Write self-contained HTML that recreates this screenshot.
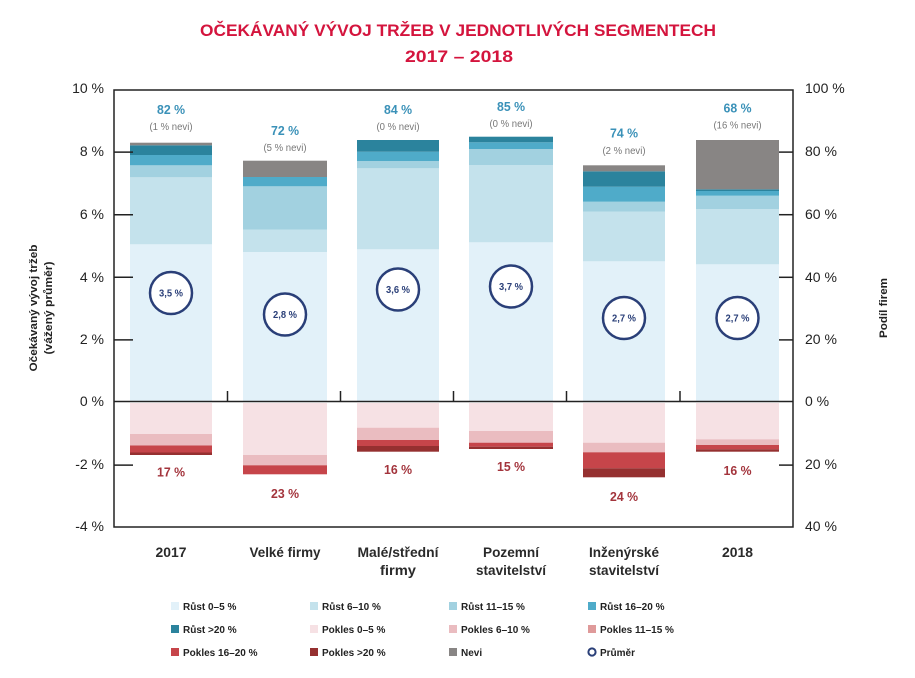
<!DOCTYPE html>
<html><head><meta charset="utf-8"><style>
html,body{margin:0;padding:0;background:#fff;}
svg{display:block;font-family:"Liberation Sans","DejaVu Sans",sans-serif;}
</style></head><body>
<svg width="915" height="678" viewBox="0 0 915 678" xmlns="http://www.w3.org/2000/svg">
<rect width="915" height="678" fill="#fff"/>
<!-- Title -->
<text x="458" y="36" text-anchor="middle" font-size="16.5" font-weight="bold" fill="#d4143d" textLength="516" lengthAdjust="spacingAndGlyphs">OČEKÁVANÝ VÝVOJ TRŽEB V JEDNOTLIVÝCH SEGMENTECH</text>
<text x="459" y="62" text-anchor="middle" font-size="16.5" font-weight="bold" fill="#d4143d" textLength="108" lengthAdjust="spacingAndGlyphs">2017 – 2018</text>

<!-- Bars positive -->
<g>
<!-- Bar1 x130-212 -->
<rect x="130" y="244.3" width="82" height="157" fill="#e2f1f9"/>
<rect x="130" y="177.3" width="82" height="67" fill="#c4e2ec"/>
<rect x="130" y="165.3" width="82" height="12" fill="#a2d1e0"/>
<rect x="130" y="155" width="82" height="10.3" fill="#4fabc9"/>
<rect x="130" y="145.3" width="82" height="9.7" fill="#2b839d"/>
<rect x="130" y="142.7" width="82" height="2.6" fill="#888584"/>
<!-- Bar2 x243-327 -->
<rect x="243" y="252" width="84" height="149" fill="#e2f1f9"/>
<rect x="243" y="229.7" width="84" height="22.3" fill="#c4e2ec"/>
<rect x="243" y="186.3" width="84" height="43.4" fill="#a2d1e0"/>
<rect x="243" y="177" width="84" height="9.3" fill="#4fabc9"/>
<rect x="243" y="160.7" width="84" height="16.3" fill="#888584"/>
<!-- Bar3 x357-439 -->
<rect x="357" y="249.3" width="82" height="152" fill="#e2f1f9"/>
<rect x="357" y="168.3" width="82" height="81" fill="#c4e2ec"/>
<rect x="357" y="161" width="82" height="7.3" fill="#a2d1e0"/>
<rect x="357" y="151.7" width="82" height="9.3" fill="#4fabc9"/>
<rect x="357" y="140" width="82" height="11.7" fill="#2b839d"/>
<!-- Bar4 x469-553 -->
<rect x="469" y="242.3" width="84" height="159" fill="#e2f1f9"/>
<rect x="469" y="165" width="84" height="77.3" fill="#c4e2ec"/>
<rect x="469" y="149" width="84" height="16" fill="#a2d1e0"/>
<rect x="469" y="142.3" width="84" height="6.7" fill="#4fabc9"/>
<rect x="469" y="136.7" width="84" height="5.6" fill="#2b839d"/>
<!-- Bar5 x583-665 -->
<rect x="583" y="261.3" width="82" height="140" fill="#e2f1f9"/>
<rect x="583" y="211.7" width="82" height="49.6" fill="#c4e2ec"/>
<rect x="583" y="201.7" width="82" height="10" fill="#a2d1e0"/>
<rect x="583" y="186.7" width="82" height="15" fill="#4fabc9"/>
<rect x="583" y="171.3" width="82" height="15.4" fill="#2b839d"/>
<rect x="583" y="165.3" width="82" height="6" fill="#888584"/>
<!-- Bar6 x696-779 -->
<rect x="696" y="264.3" width="83" height="137" fill="#e2f1f9"/>
<rect x="696" y="209" width="83" height="55.3" fill="#c4e2ec"/>
<rect x="696" y="195.7" width="83" height="13.3" fill="#a2d1e0"/>
<rect x="696" y="191" width="83" height="4.7" fill="#4fabc9"/>
<rect x="696" y="189.3" width="83" height="1.7" fill="#2b839d"/>
<rect x="696" y="140" width="83" height="49.3" fill="#888584"/>
</g>

<!-- Bars negative -->
<g>
<rect x="130" y="403" width="82" height="31" fill="#f6e1e4"/>
<rect x="130" y="434" width="82" height="11.5" fill="#eabcc0"/>
<rect x="130" y="445.5" width="82" height="7" fill="#c6454a"/>
<rect x="130" y="452.5" width="82" height="2.5" fill="#953030"/>

<rect x="243" y="403" width="84" height="52" fill="#f6e1e4"/>
<rect x="243" y="455" width="84" height="10.3" fill="#eabcc0"/>
<rect x="243" y="465.3" width="84" height="9" fill="#c6454a"/>

<rect x="357" y="403" width="82" height="24.7" fill="#f6e1e4"/>
<rect x="357" y="427.7" width="82" height="12.3" fill="#eabcc0"/>
<rect x="357" y="440" width="82" height="6" fill="#c6454a"/>
<rect x="357" y="446" width="82" height="5.7" fill="#953030"/>

<rect x="469" y="403" width="84" height="28" fill="#f6e1e4"/>
<rect x="469" y="431" width="84" height="11.7" fill="#eabcc0"/>
<rect x="469" y="442.7" width="84" height="4" fill="#c6454a"/>
<rect x="469" y="446.7" width="84" height="2.3" fill="#953030"/>

<rect x="583" y="403" width="82" height="39.7" fill="#f6e1e4"/>
<rect x="583" y="442.7" width="82" height="9.6" fill="#eabcc0"/>
<rect x="583" y="452.3" width="82" height="16" fill="#c6454a"/>
<rect x="583" y="468.3" width="82" height="9" fill="#953030"/>

<rect x="696" y="403" width="83" height="36.3" fill="#f6e1e4"/>
<rect x="696" y="439.3" width="83" height="5.7" fill="#eabcc0"/>
<rect x="696" y="445" width="83" height="4.3" fill="#c6454a"/>
<rect x="696" y="449.3" width="83" height="2.4" fill="#953030"/>
</g>

<!-- Frame & axes -->
<g stroke="#222" stroke-width="1.5" fill="none">
<rect x="114" y="90" width="679" height="437"/>
<line x1="114" y1="401.5" x2="793" y2="401.5"/>
<!-- left ticks -->
<line x1="114" y1="152.1" x2="133" y2="152.1"/>
<line x1="114" y1="214.7" x2="133" y2="214.7"/>
<line x1="114" y1="277.3" x2="133" y2="277.3"/>
<line x1="114" y1="339.9" x2="133" y2="339.9"/>
<line x1="114" y1="465.1" x2="133" y2="465.1"/>
<!-- right ticks -->
<line x1="779" y1="152.1" x2="793" y2="152.1"/>
<line x1="779" y1="214.7" x2="793" y2="214.7"/>
<line x1="779" y1="277.3" x2="793" y2="277.3"/>
<line x1="779" y1="339.9" x2="793" y2="339.9"/>
<line x1="779" y1="465.1" x2="793" y2="465.1"/>
<!-- category ticks -->
<line x1="227.5" y1="391" x2="227.5" y2="401.5"/>
<line x1="340.5" y1="391" x2="340.5" y2="401.5"/>
<line x1="453.5" y1="391" x2="453.5" y2="401.5"/>
<line x1="566.5" y1="391" x2="566.5" y2="401.5"/>
<line x1="680" y1="391" x2="680" y2="401.5"/>
</g>

<!-- Left tick labels -->
<g font-size="14" fill="#222" text-anchor="end">
<text x="104" y="93">10 %</text>
<text x="104" y="156">8 %</text>
<text x="104" y="219">6 %</text>
<text x="104" y="282">4 %</text>
<text x="104" y="344">2 %</text>
<text x="104" y="406">0 %</text>
<text x="104" y="469">-2 %</text>
<text x="104" y="531">-4 %</text>
</g>
<!-- Right tick labels -->
<g font-size="14" fill="#222" text-anchor="start">
<text x="805" y="93">100 %</text>
<text x="805" y="156">80 %</text>
<text x="805" y="219">60 %</text>
<text x="805" y="282">40 %</text>
<text x="805" y="344">20 %</text>
<text x="805" y="406">0 %</text>
<text x="805" y="469">20 %</text>
<text x="805" y="531">40 %</text>
</g>

<!-- Axis titles -->
<g font-size="11" font-weight="bold" fill="#222" text-anchor="middle">
<text transform="translate(37,308) rotate(-90)" textLength="127" lengthAdjust="spacingAndGlyphs">Očekávaný vývoj tržeb</text>
<text transform="translate(52,308) rotate(-90)" textLength="93" lengthAdjust="spacingAndGlyphs">(vážený průměr)</text>
<text transform="translate(887,308) rotate(-90)" textLength="60" lengthAdjust="spacingAndGlyphs">Podíl firem</text>
</g>

<!-- Top value labels -->
<g text-anchor="middle">
<g font-size="13" font-weight="bold" fill="#3a91b8">
<text x="171" y="114" textLength="28" lengthAdjust="spacingAndGlyphs">82 %</text>
<text x="285" y="135" textLength="28" lengthAdjust="spacingAndGlyphs">72 %</text>
<text x="398" y="114" textLength="28" lengthAdjust="spacingAndGlyphs">84 %</text>
<text x="511" y="111" textLength="28" lengthAdjust="spacingAndGlyphs">85 %</text>
<text x="624" y="137.5" textLength="28" lengthAdjust="spacingAndGlyphs">74 %</text>
<text x="737.5" y="112.5" textLength="28" lengthAdjust="spacingAndGlyphs">68 %</text>
</g>
<g font-size="10" fill="#777">
<text x="171" y="130" textLength="43" lengthAdjust="spacingAndGlyphs">(1 % nevi)</text>
<text x="285" y="151" textLength="43" lengthAdjust="spacingAndGlyphs">(5 % nevi)</text>
<text x="398" y="130" textLength="43" lengthAdjust="spacingAndGlyphs">(0 % nevi)</text>
<text x="511" y="127" textLength="43" lengthAdjust="spacingAndGlyphs">(0 % nevi)</text>
<text x="624" y="154" textLength="43" lengthAdjust="spacingAndGlyphs">(2 % nevi)</text>
<text x="737.5" y="128.5" textLength="48" lengthAdjust="spacingAndGlyphs">(16 % nevi)</text>
</g>
<!-- Negative labels -->
<g font-size="13" font-weight="bold" fill="#a3343c">
<text x="171" y="476.5" textLength="28" lengthAdjust="spacingAndGlyphs">17 %</text>
<text x="285" y="498" textLength="28" lengthAdjust="spacingAndGlyphs">23 %</text>
<text x="398" y="474" textLength="28" lengthAdjust="spacingAndGlyphs">16 %</text>
<text x="511" y="471" textLength="28" lengthAdjust="spacingAndGlyphs">15 %</text>
<text x="624" y="501" textLength="28" lengthAdjust="spacingAndGlyphs">24 %</text>
<text x="737.5" y="475" textLength="28" lengthAdjust="spacingAndGlyphs">16 %</text>
</g>
</g>

<!-- Average circles -->
<g stroke="#2a3f78" stroke-width="2.5" fill="#fff">
<circle cx="171" cy="293" r="21"/>
<circle cx="285" cy="314.5" r="21"/>
<circle cx="398" cy="289.5" r="21"/>
<circle cx="511" cy="286.5" r="21"/>
<circle cx="624" cy="318" r="21"/>
<circle cx="737.5" cy="318" r="21"/>
</g>
<g font-size="10" font-weight="bold" fill="#2a3f78" text-anchor="middle">
<text x="171" y="296.5" textLength="24" lengthAdjust="spacingAndGlyphs">3,5 %</text>
<text x="285" y="318" textLength="24" lengthAdjust="spacingAndGlyphs">2,8 %</text>
<text x="398" y="293" textLength="24" lengthAdjust="spacingAndGlyphs">3,6 %</text>
<text x="511" y="290" textLength="24" lengthAdjust="spacingAndGlyphs">3,7 %</text>
<text x="624" y="321.5" textLength="24" lengthAdjust="spacingAndGlyphs">2,7 %</text>
<text x="737.5" y="321.5" textLength="24" lengthAdjust="spacingAndGlyphs">2,7 %</text>
</g>

<!-- Category labels -->
<g font-size="13.5" fill="#2a2a2a" text-anchor="middle" font-weight="bold">
<text x="171" y="557" textLength="31" lengthAdjust="spacingAndGlyphs">2017</text>
<text x="285" y="557" textLength="71" lengthAdjust="spacingAndGlyphs">Velké firmy</text>
<text x="398" y="557" textLength="81" lengthAdjust="spacingAndGlyphs">Malé/střední</text>
<text x="398" y="575" textLength="36" lengthAdjust="spacingAndGlyphs">firmy</text>
<text x="511" y="557" textLength="56" lengthAdjust="spacingAndGlyphs">Pozemní</text>
<text x="511" y="575" textLength="70" lengthAdjust="spacingAndGlyphs">stavitelství</text>
<text x="624" y="557" textLength="70" lengthAdjust="spacingAndGlyphs">Inženýrské</text>
<text x="624" y="575" textLength="70" lengthAdjust="spacingAndGlyphs">stavitelství</text>
<text x="737.5" y="557" textLength="31" lengthAdjust="spacingAndGlyphs">2018</text>
</g>

<!-- Legend -->
<g font-size="10" font-weight="bold" fill="#222">
<rect x="171" y="602" width="8" height="8" fill="#e2f1f9"/><text x="183" y="610">Růst 0–5 %</text>
<rect x="310" y="602" width="8" height="8" fill="#c4e2ec"/><text x="322" y="610">Růst 6–10 %</text>
<rect x="449" y="602" width="8" height="8" fill="#a2d1e0"/><text x="461" y="610">Růst 11–15 %</text>
<rect x="588" y="602" width="8" height="8" fill="#4fabc9"/><text x="600" y="610">Růst 16–20 %</text>

<rect x="171" y="625" width="8" height="8" fill="#2b839d"/><text x="183" y="633">Růst &gt;20 %</text>
<rect x="310" y="625" width="8" height="8" fill="#f6e1e4"/><text x="322" y="633">Pokles 0–5 %</text>
<rect x="449" y="625" width="8" height="8" fill="#eabcc0"/><text x="461" y="633">Pokles 6–10 %</text>
<rect x="588" y="625" width="8" height="8" fill="#df9a9a"/><text x="600" y="633">Pokles 11–15 %</text>

<rect x="171" y="648" width="8" height="8" fill="#c6454a"/><text x="183" y="656">Pokles 16–20 %</text>
<rect x="310" y="648" width="8" height="8" fill="#953030"/><text x="322" y="656">Pokles &gt;20 %</text>
<rect x="449" y="648" width="8" height="8" fill="#888584"/><text x="461" y="656">Nevi</text>
<circle cx="592" cy="652" r="3.6" fill="none" stroke="#2a3f78" stroke-width="2"/><text x="600" y="656">Průměr</text>
</g>
</svg>
</body></html>
